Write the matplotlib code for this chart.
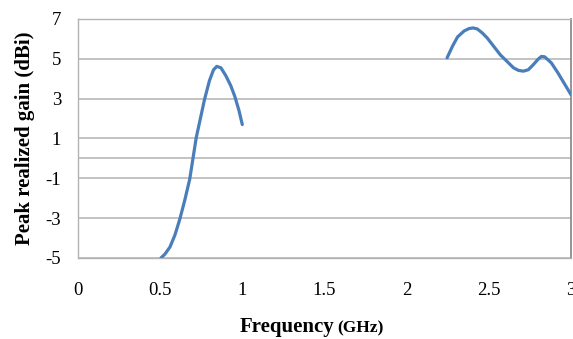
import matplotlib
matplotlib.use('Agg')
import matplotlib.pyplot as plt

# band 1 (low frequency)
freq_low = [0.505, 0.53, 0.56, 0.59, 0.62, 0.65, 0.68, 0.72, 0.77, 0.80, 0.825, 0.845, 0.87, 0.90, 0.93, 0.955, 0.98, 1.0]
gain_low = [-5.0, -4.8, -4.45, -3.85, -3.05, -2.1, -1.05, 1.05, 2.95, 3.9, 4.45, 4.62, 4.55, 4.15, 3.65, 3.1, 2.4, 1.7]

# band 2 (high frequency)
freq_high = [2.246, 2.28, 2.31, 2.35, 2.38, 2.404, 2.43, 2.46, 2.49, 2.57, 2.65, 2.68, 2.71, 2.74, 2.77, 2.80, 2.82, 2.84, 2.88, 2.92, 2.96, 3.0]
gain_high = [5.05, 5.65, 6.1, 6.4, 6.52, 6.55, 6.5, 6.3, 6.05, 5.2, 4.55, 4.42, 4.38, 4.45, 4.7, 4.98, 5.12, 5.1, 4.8, 4.3, 3.75, 3.2]

x_ticks = [0, 0.5, 1, 1.5, 2, 2.5, 3]
x_labels = ['0', '0.5', '1', '1.5', '2', '2.5', '3']
y_ticks = [-5, -3, -1, 1, 3, 5, 7]
y_labels = ['-5', '-3', '-1', '1', '3', '5', '7']

fig = plt.figure(figsize=(5.73, 3.39), dpi=100)
ax = fig.add_axes([0.136, 0.239, 0.8605, 0.705])

line_color = '#4a7ebb'
ax.plot(freq_low, gain_low, color=line_color, lw=2.3, solid_capstyle='round',
        solid_joinstyle='round', zorder=3)
ax.plot(freq_high, gain_high, color=line_color, lw=2.3, solid_capstyle='round',
        solid_joinstyle='round', zorder=3)

ax.set_xlim(0, 3)
ax.set_ylim(-5, 7)
ax.set_yticks(y_ticks)
ax.set_yticklabels(y_labels)
ax.set_xticks(x_ticks)
ax.set_xticklabels(x_labels)

for y in y_ticks:
    ax.axhline(y, color='#b3b3b3', lw=1.1, zorder=1)
ax.axhline(0, color='#b3b3b3', lw=1.1, zorder=1)

for side in ['left', 'top', 'bottom']:
    ax.spines[side].set_color('#b3b3b3')
    ax.spines[side].set_linewidth(1.0)
ax.spines['right'].set_color('#8c8c8c')
ax.spines['right'].set_linewidth(1.3)

ax.tick_params(length=0, labelsize=13.5)
ax.tick_params(axis='x', pad=17)
ax.tick_params(axis='y', pad=12)
for lab in ax.get_xticklabels() + ax.get_yticklabels():
    lab.set_fontfamily('Liberation Serif')

ax.set_ylabel('Peak realized gain (dBi)', fontfamily='Liberation Serif',
              fontweight='bold', fontsize=15, labelpad=8)

fig.text(0.584, 0.02, 'Frequency', fontfamily='Liberation Serif', fontweight='bold',
         fontsize=15, ha='right', va='baseline')
fig.text(0.588, 0.02, '(GHz)', fontfamily='Liberation Serif', fontweight='bold',
         fontsize=12.5, ha='left', va='baseline')

fig.savefig('out.png', dpi=100)
